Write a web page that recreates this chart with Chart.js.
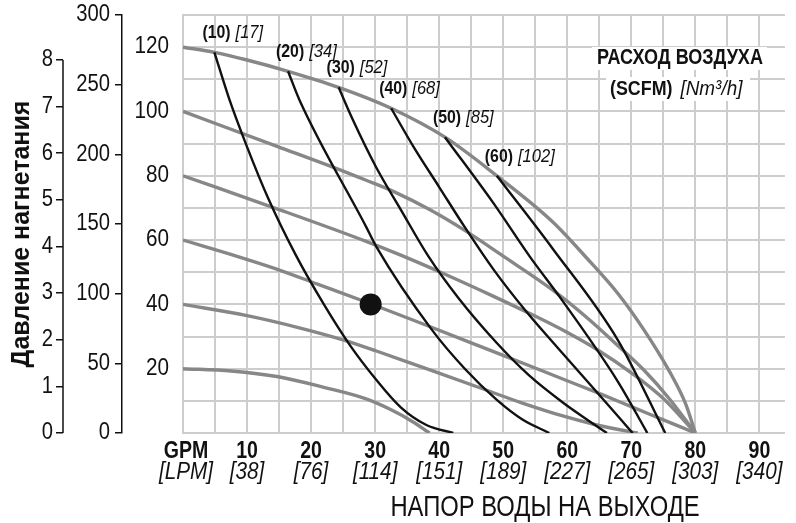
<!DOCTYPE html>
<html>
<head>
<meta charset="utf-8">
<script src="https://cdn.jsdelivr.net/npm/chart.js@4.4.0/dist/chart.umd.min.js"></script>
<style>
  html, body { margin: 0; padding: 0; background: #fff; }
  #wrap { width: 796px; height: 523px; }
</style>
</head>
<body>
<div id="wrap"><canvas id="pumpChart" width="796" height="523"></canvas></div>
<script>
/* ── data: (GPM, psi) ── */
const gpmTicks = [10, 20, 30, 40, 50, 60, 70, 80, 90];
const lpmTicks = ['[38]', '[76]', '[114]', '[151]', '[189]', '[227]', '[265]', '[303]', '[340]'];
const psiTicks = [20, 40, 60, 80, 100, 120];

// air inlet pressure curves (grey)
const press20  = [[0,20],[7.5,19.3],[14.9,17.5],[22,14.2],[28.6,10.6],[32.5,7.2],[35.8,3.6],[38.5,0]];
const press40  = [[0,40],[10,36.5],[18,32.8],[25.1,28.9],[30.2,25.5],[38,20],[47,13.6],[53,9.3],[59.3,5.3],[64,2.8],[68,1.1],[71,0]];
const press60  = [[0,60],[8.7,54.8],[14.3,51.2],[21,46.3],[29.3,40.2],[38,33.5],[48.5,25.3],[54,21],[59.3,16.8],[65,12.3],[70,8.2],[75,4.1],[80,0]];
const press80  = [[0,80],[15,69.5],[28.6,59.6],[34,55.3],[41,49.3],[48.5,42.5],[54,37.3],[59.3,32],[65,25.5],[70,18.7],[75,10.7],[80,0]];
const press100 = [[0,100],[14.9,89],[23,83],[28.6,78.6],[33,75],[38.5,69.5],[44,63],[50,55],[57.7,44.5],[63,36],[68,27],[72,19.5],[76,10.5],[80,0]];
const press120 = [[0,120],[4.9,118.4],[10,116],[16.4,112.5],[24.3,107.5],[32.5,101],[40.9,92],[49,80],[57.7,65.7],[63,54.5],[67.9,43.4],[72,32],[76,19],[78.5,9],[80,0]];

// air consumption curves (black)
const air10 = [[4.9,118.4],[7.2,104],[10,89],[13.3,73],[17.7,55],[22,40],[26,27.5],[30.2,16.5],[34,8],[38,2.5],[42.2,0]];
const air20 = [[16.4,112.5],[18.2,103.5],[28.6,64.1],[30.2,57.9],[38.9,32],[44,20],[49,10.3],[53,4.2],[57.2,0]];
const air30 = [[24.3,107.5],[26.5,97.5],[30.2,82.5],[34,69.5],[38.3,55],[43,42],[49,28],[54,18],[59.3,9.5],[63,4.3],[66.2,0]];
const air40 = [[32.5,101],[36,89],[40,76.5],[44,64],[48.5,50.8],[53.5,38],[58.5,26.5],[64.5,13],[70.2,0]];
const air50 = [[40.9,92],[48.5,71.4],[54.1,55],[59.3,41],[67.9,16],[72.5,0]];
const air60 = [[49,80],[57.7,57.4],[67.9,28.9],[75.3,0]];

const scfmLabels = ['(10)', '(20)', '(30)', '(40)', '(50)', '(60)'];
const nm3Labels  = ['[17]', '[34]', '[52]', '[68]', '[85]', '[102]'];

const dutyPoint = [29.3, 40];

/* ── styles ── */
const SANS  = "'Liberation Sans', Arial, Helvetica, sans-serif";
const GRID  = '#cdcdcd';
const GREY  = '#878787';
const INK   = '#111';

const pressCurves = [press20, press40, press60, press80, press100, press120];
const airCurves   = [air10, air20, air30, air40, air50, air60];
const toXY = pts => pts.map(p => ({ x: p[0], y: p[1] }));

const datasets = [];
datasets.push({
  data: [{ x: dutyPoint[0], y: dutyPoint[1] }],
  showLine: false, pointRadius: 11, pointBackgroundColor: INK, pointBorderWidth: 0, order: 0,
});
airCurves.forEach(c => datasets.push({
  data: toXY(c), borderColor: INK, borderWidth: 2.4, pointRadius: 0,
  cubicInterpolationMode: 'monotone', order: 1,
}));
pressCurves.forEach(c => datasets.push({
  data: toXY(c), borderColor: GREY, borderWidth: 3.4, pointRadius: 0,
  cubicInterpolationMode: 'monotone', order: 2,
}));

// condensed look: squeeze Liberation Sans horizontally
function narrowText(ctx, str, x, y, size, opts = {}) {
  const { weight = '', style = '', align = 'left', sx = 0.82 } = opts;
  ctx.save();
  ctx.translate(x, y);
  ctx.scale(sx, 1);
  ctx.font = `${style} ${weight} ${size}px ${SANS}`.trim();
  ctx.textAlign = align;
  ctx.textBaseline = 'middle';
  ctx.fillText(str, 0, 0);
  const w = ctx.measureText(str).width * sx;
  ctx.restore();
  return w;
}

/* ── axis texts and annotations ── */
const pumpText = {
  id: 'pumpText',
  afterDraw(chart) {
    const { ctx, chartArea, scales: { x, y, yFt, yBar } } = chart;
    ctx.save();
    ctx.fillStyle = INK;
    ctx.strokeStyle = INK;

    // bar axis line only runs 0..8
    ctx.lineWidth = 1.5;
    ctx.beginPath();
    ctx.moveTo(yBar.right, yBar.getPixelForValue(0));
    ctx.lineTo(yBar.right, yBar.getPixelForValue(8));
    ctx.stroke();

    // left tick labels
    psiTicks.forEach(v => narrowText(ctx, String(v), y.right - 14, y.getPixelForValue(v), 23, { align: 'right', sx: 0.9 }));
    yFt.ticks.forEach(t => narrowText(ctx, String(t.value), yFt.right - 12, yFt.getPixelForValue(t.value), 23, { align: 'right', sx: 0.88 }));
    yBar.ticks.forEach(t => narrowText(ctx, String(t.value), yBar.right - 10, yBar.getPixelForValue(t.value), 23, { align: 'right', sx: 0.88 }));

    // y title
    ctx.save();
    ctx.translate(22, 234);
    ctx.rotate(-Math.PI / 2);
    ctx.textAlign = 'center';
    ctx.textBaseline = 'middle';
    ctx.font = `bold 25px ${SANS}`;
    ctx.fillText('Давление нагнетания', 0, 0);
    ctx.restore();

    // x tick labels, two rows
    const row1 = chartArea.bottom + 19, row2 = chartArea.bottom + 40;
    const x0 = x.getPixelForValue(0) + 3;
    narrowText(ctx, 'GPM', x0, row1, 23, { weight: 'bold', align: 'center', sx: 0.85 });
    narrowText(ctx, '[LPM]', x0, row2, 23, { style: 'italic', align: 'center', sx: 0.9 });
    gpmTicks.forEach((v, i) => {
      const px = x.getPixelForValue(v);
      narrowText(ctx, String(v), px, row1, 23, { weight: 'bold', align: 'center', sx: 0.85 });
      narrowText(ctx, lpmTicks[i], px, row2, 23, { style: 'italic', align: 'center', sx: 0.9 });
    });

    // x title
    narrowText(ctx, 'НАПОР ВОДЫ НА ВЫХОДЕ', 545, 508, 29, { align: 'center' });

    // air curve labels, anchored at each curve's top end
    airCurves.forEach((c, i) => {
      const px = x.getPixelForValue(c[0][0]) - 12;
      const py = y.getPixelForValue(c[0][1]) - 19;
      const w = narrowText(ctx, scfmLabels[i], px, py, 18, { weight: 'bold', sx: 0.88 });
      narrowText(ctx, nm3Labels[i], px + w + 5, py, 18, { style: 'italic', sx: 0.92 });
    });

    // legend block
    ctx.fillStyle = '#fff';
    ctx.fillRect(592, 47, 175, 23);
    ctx.fillRect(606, 77, 144, 24);
    ctx.fillStyle = INK;
    narrowText(ctx, 'РАСХОД ВОЗДУХА', 680, 58, 22, { weight: 'bold', align: 'center' });
    const w1 = narrowText(ctx, '(SCFM)', 610, 89, 21, { weight: 'bold', sx: 0.85 });
    narrowText(ctx, '[Nm³/h]', 610 + w1 + 8, 89, 21, { style: 'italic', sx: 0.9 });

    ctx.restore();
  },
};

new Chart(document.getElementById('pumpChart'), {
  type: 'line',
  data: { datasets },
  plugins: [pumpText],
  options: {
    responsive: false,
    animation: false,
    layout: { padding: { top: 15, bottom: 90, left: 0, right: 0 } },
    plugins: { legend: { display: false }, tooltip: { enabled: false } },
    scales: {
      x: {
        type: 'linear', min: 0, max: 94,
        ticks: { display: false, stepSize: 5, includeBounds: false },
        grid: { color: GRID, lineWidth: 2, drawTicks: false },
        border: { display: false },
      },
      y: {
        position: 'left', weight: 0, min: 0, max: 130,
        ticks: { display: false, stepSize: 10 },
        grid: { color: GRID, lineWidth: 2, drawTicks: false },
        border: { color: GRID, width: 2 },
        afterFit: s => { s.width = 61; },
      },
      yFt: {
        position: 'left', weight: 1, min: 0, max: 300,
        ticks: { display: false, stepSize: 50 },
        grid: { drawOnChartArea: false, drawTicks: true, tickLength: 7, color: INK, lineWidth: 1.5 },
        border: { color: INK, width: 1.5 },
        afterFit: s => { s.width = 59; },
      },
      yBar: {
        position: 'left', weight: 2, min: 0, max: 130 / 14.504,
        ticks: { display: false, stepSize: 1, includeBounds: false },
        grid: { drawOnChartArea: false, drawTicks: true, tickLength: 7, color: INK, lineWidth: 1.5 },
        border: { display: false },
        afterFit: s => { s.width = 63; },
      },
    },
  },
});
</script>
</body>
</html>
